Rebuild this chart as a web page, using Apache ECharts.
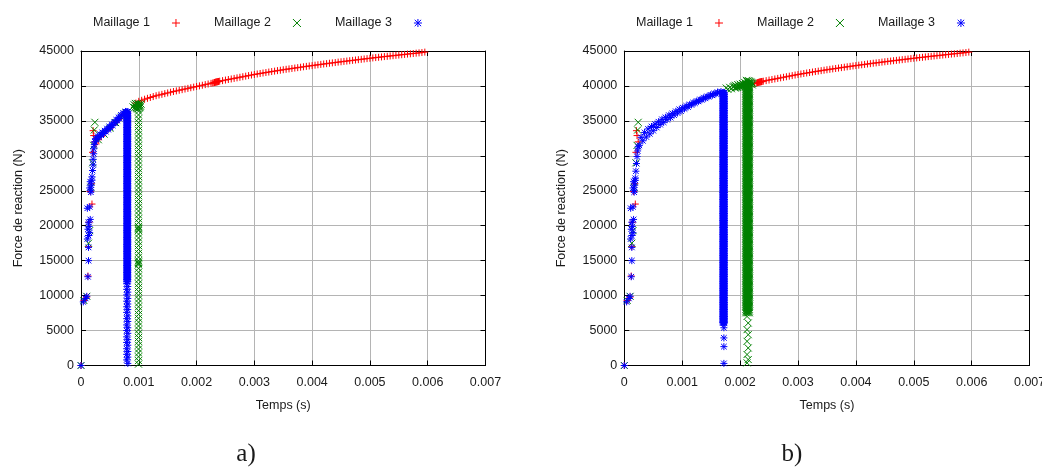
<!DOCTYPE html>
<html>
<head>
<meta charset="utf-8">
<script src="https://cdn.jsdelivr.net/npm/echarts@6/dist/echarts.min.js"></script>
<style>
html,body{margin:0;padding:0;background:#fff;overflow:hidden;}
#chart{width:1042px;height:467px;}
</style>
</head>
<body>
<div id="chart"></div>
<script>
// ---------- tick labels / names ----------
var seriesNames = ['Maillage 1', 'Maillage 2', 'Maillage 3'];
var xTicks = [0, 0.001, 0.002, 0.003, 0.004, 0.005, 0.006, 0.007];
var yTicks = [0, 5000, 10000, 15000, 20000, 25000, 30000, 35000, 40000, 45000];
var panelLabels = ['a)', 'b)'];

// ---------- Maillage 1 (same in both panels) ----------
var m1EarlyT = [0, 0.00005, 0.0001, 0.00012, 0.00013, 0.00014, 0.00019, 0.00016, 0.00018, 0.0002, 0.00021, 0.00022, 0.00024];
var m1EarlyF = [0, 9300, 9800, 12800, 17000, 20500, 23100, 24900, 26000, 30500, 33600, 32900, 32000];
var m1aMidT = [0.00026,0.0003,0.00035,0.0004,0.00045,0.0005,0.00055,0.0006,0.00065,0.0007,0.00075,0.0008,0.00095,0.001,0.00105,0.0011,0.00115,0.0012,0.00125,0.0013,0.00135,0.0014,0.00145,0.0015,0.00155,0.0016,0.00165,0.0017,0.00175,0.0018,0.00185,0.0019,0.00195,0.002,0.00205,0.0021];
var m1aMidF = [31700,32300,32800,33200,33650,34000,34400,34800,35250,35600,35950,36200,37550,37800,37950,38100,38230,38350,38480,38600,38700,38800,38900,39000,39100,39200,39290,39380,39470,39560,39650,39740,39830,39920,40010,40100];
var m1LateT = [0.00215,0.0022,0.00225,0.00228,0.0023,0.00231,0.00232,0.00233,0.00234,0.00235,0.00236,0.00237,0.00238,0.0024,0.00245,0.0025,0.00255,0.0026,0.00265,0.0027,0.00275,0.0028,0.00285,0.0029,0.00295,0.003,0.00305,0.0031,0.00315,0.0032,0.00325,0.0033,0.00335,0.0034,0.00345,0.0035,0.00355,0.0036,0.00365,0.0037,0.00375,0.0038,0.00385,0.0039,0.00395,0.004,0.00405,0.0041,0.00415,0.0042,0.00425,0.0043,0.00435,0.0044,0.00445,0.0045,0.00455,0.0046,0.00465,0.0047,0.00475,0.0048,0.00485,0.0049,0.00495,0.005,0.00505,0.0051,0.00515,0.0052,0.00525,0.0053,0.00535,0.0054,0.00545,0.0055,0.00555,0.0056,0.00565,0.0057,0.00575,0.0058,0.00585,0.0059,0.00595];
var m1LateF = [40190,40280,40370,40420,40460,40490,40510,40540,40560,40580,40600,40620,40640,40680,40760,40840,40920,41000,41080,41160,41240,41320,41400,41480,41560,41640,41710,41780,41850,41920,41990,42060,42120,42190,42250,42320,42380,42440,42500,42560,42620,42680,42740,42800,42860,42910,42970,43030,43080,43140,43190,43250,43300,43350,43410,43460,43510,43560,43610,43660,43710,43760,43810,43860,43910,43960,44010,44060,44100,44150,44200,44240,44290,44330,44380,44420,44470,44510,44560,44600,44640,44690,44730,44780,44840];

// ---------- Maillage 2 ----------
var m2EarlyT = [0, 0.00005, 0.0001, 0.00013, 0.00015, 0.00017, 0.0002, 0.00022, 0.00023, 0.00024];
var m2EarlyF = [0, 9300, 9900, 17500, 19300, 25500, 29000, 31500, 33700, 34800];
var m2aMidT = [0.0003, 0.0004, 0.0005, 0.0006, 0.0007, 0.00078];
var m2aMidF = [32300, 33100, 33950, 34750, 35550, 36150];
var m2aTopT = [0.0009,0.00092,0.00093,0.00094,0.00095,0.00096,0.00097,0.00098,0.00099,0.001,0.00101,0.00102,0.00103,0.00104,0.001,0.00098,0.00096,0.00102];
var m2aTopF = [37000,37300,36900,37500,37100,37400,36800,37500,37200,37400,37000,37300,37100,37400,36800,36700,36900,36900];
var m2aDropTime = 0.000995;
var m2aDropF = [36400,35850,35300,34750,34200,33650,33100,32550,32000,31450,30900,30350,29800,29250,28700,28150,27600,27050,26500,25950,25400,24850,24300,23750,23200,22650,22100,21550,21000,20450,19900,19700,19500,19300,18800,18250,17700,17150,16600,16050,15500,15000,14800,14600,14400,13900,13350,12800,12250,11700,11150,10600,10050,9500,8950,8400,7850,7300,6750,6200,5650,5100,4550,4000,3450,2900,2350,1800,1250,700,200];
var m2bTopT = [0.00176,0.00179,0.00182,0.00185,0.00188,0.0019,0.00192,0.00194,0.00196,0.00198,0.002,0.00202,0.00204,0.00206,0.00208,0.0021,0.00212,0.00214,0.00216,0.00218,0.0022,0.00222,0.0021,0.00213,0.00191,0.00193,0.00195,0.00197,0.00199,0.00201,0.00203,0.00205,0.00207,0.00209,0.00211,0.00215,0.00217,0.00219,0.00221];
var m2bTopF = [39700,39500,39800,39600,39900,40000,40100,39900,40200,40000,40250,40100,40350,40200,40500,40300,40650,40400,40550,40300,40450,40350,40100,40700,39700,39750,39800,39850,39900,39950,40000,40050,40150,40200,40800,40750,40650,40550,40150];
var m2bDropTimes = [0.0021, 0.00212, 0.00214, 0.00216];
var m2bDropF = [40300,40050,39800,39550,39300,39050,38800,38550,38300,38050,37800,37550,37300,37050,36800,36550,36300,36050,35800,35550,35300,35050,34800,34550,34300,34050,33800,33550,33300,33050,32800,32550,32300,32050,31800,31550,31300,31050,30800,30550,30300,30050,29800,29550,29300,29050,28800,28550,28300,28050,27800,27550,27300,27050,26800,26550,26300,26050,25800,25550,25300,25050,24800,24550,24300,24050,23800,23550,23300,23050,22800,22550,22300,22050,21800,21550,21300,21050,20800,20550,20300,20050,19800,19550,19300,19050,18800,18550,18300,18050,17800,17550,17300,17050,16800,16550,16300,16050,15800,15550,15300,15050,14800,14550,14300,14050,13800,13550,13300,13050,12800,12550,12300,12050,11800,11550,11300,11050,10800,10550,10300,10050,9800,9550,9300,9050,8800,8550,8300,8050,7800,7550];
var m2bTailTimes = [0.00212, 0.00214];
var m2bTailF = [7020,6080,5130,4410,3460,2510,1570,850,380];

// ---------- Maillage 3 ----------
var m3EarlyT = [0, 0.00004, 0.00008, 0.0001, 0.00012, 0.00013, 0.00013, 0.00011, 0.00013, 0.00015, 0.00012, 0.00014, 0.00013, 0.00016, 0.00011, 0.00015, 0.00017, 0.00015, 0.00018, 0.00016, 0.00019, 0.00017];
var m3EarlyF = [0, 9100, 9600, 9900, 12700, 15000, 16900, 18100, 18600, 19000, 19500, 19900, 20500, 20900, 22500, 22700, 24800, 25400, 25800, 26300, 26500, 25100];
var m3aCurveT = [0.00019,0.0002,0.00021,0.00021,0.00022,0.00022,0.00023,0.00024,0.00025,0.00027,0.00029,0.00031,0.00033,0.00035,0.00037,0.00039,0.00041,0.00043,0.00045,0.00047,0.00049,0.00051,0.00053,0.00055,0.00057,0.00059,0.00061,0.00063,0.00065,0.00067,0.00069,0.00071,0.00073,0.00075,0.00077,0.00079];
var m3aCurveF = [27000,27900,28700,29500,30300,31000,31600,32000,32450,32350,32800,32650,33100,32950,33350,33200,33600,33450,33900,33750,34200,34050,34500,34350,34800,34700,35150,35050,35500,35350,35850,35700,36150,35950,36350,36200];
var m3aDropTimes = [0.00079, 0.0008, 0.00081];
var m3aDropF = [36300,36050,35800,35550,35300,35050,34800,34550,34300,34050,33800,33550,33300,33050,32800,32550,32300,32050,31800,31550,31300,31050,30800,30550,30300,30050,29800,29550,29300,29050,28800,28550,28300,28050,27800,27550,27300,27050,26800,26550,26300,26050,25800,25550,25300,25050,24800,24550,24300,24050,23800,23550,23300,23050,22800,22550,22300,22050,21800,21550,21300,21050,20800,20550,20300,20050,19800,19550,19300,19050,18800,18550,18300,18050,17800,17550,17300,17050,16800,16550,16300,16050,15800,15550,15300,15050,14800,14550,14300,14050,13800,13550,13300,13050,12800,12550,12300,12050];
var m3aTailTimes = [0.00079, 0.00081];
var m3aTailF = [11700,11300,10900,10500,10100,9600,9200,8800,8400,8000,7600,7100,6700,6300,5800,5400,5000,4600,4100,3700,3300,2900,2400,2000,1600,1200,800,300];
var m3bCurveT = [0.00019,0.0002,0.00021,0.00022,0.00023,0.00024,0.00026,0.00029,0.00032,0.00035,0.00038,0.00041,0.00044,0.00047,0.0005,0.00053,0.00056,0.00059,0.00062,0.00065,0.00068,0.00071,0.00074,0.00077,0.0008,0.00083,0.00086,0.00089,0.00092,0.00095,0.00098,0.00101,0.00104,0.00107,0.0011,0.00113,0.00116,0.00119,0.00122,0.00125,0.00128,0.00131,0.00134,0.00137,0.0014,0.00143,0.00146,0.00149,0.00152,0.00155,0.00158,0.00161,0.00164,0.00167,0.0017];
var m3bCurveF = [26800,27800,28900,29900,30700,31300,31500,32650,32150,33350,32700,33850,33150,34200,33600,34550,34050,34880,34460,35230,34800,35510,35170,35820,35470,36070,35820,36370,36120,36660,36400,36890,36720,37150,36980,37360,37290,37610,37530,37830,37790,38070,38020,38290,38240,38510,38460,38720,38660,38920,38860,39110,39020,39200,39000];
var m3bDropTimes = [0.0017, 0.00171, 0.00172, 0.00173];
var m3bDropF = [39000,38750,38500,38250,38000,37750,37500,37250,37000,36750,36500,36250,36000,35750,35500,35250,35000,34750,34500,34250,34000,33750,33500,33250,33000,32750,32500,32250,32000,31750,31500,31250,31000,30750,30500,30250,30000,29750,29500,29250,29000,28750,28500,28250,28000,27750,27500,27250,27000,26750,26500,26250,26000,25750,25500,25250,25000,24750,24500,24250,24000,23750,23500,23250,23000,22750,22500,22250,22000,21750,21500,21250,21000,20750,20500,20250,20000,19750,19500,19250,19000,18750,18500,18250,18000,17750,17500,17250,17000,16750,16500,16250,16000,15750,15500,15250,15000,14750,14500,14250,14000,13750,13500,13250,13000,12750,12500,12250,12000,11750,11500,11250,11000,10750,10500,10250,10000,9750,9500,9250,9000,8750,8500,8250,8000,7750,7500,7250,7000,6750,6500,6250,6100];
var m3bTailTime = 0.00172;
var m3bTailF = [5400, 3950, 2700, 300];

// ---------- helpers ----------
function zip(T, F) {
  var n = Math.min(T.length, F.length), out = [];
  for (var i = 0; i < n; i++) out.push([T[i], F[i]]);
  return out;
}
// one mark per level, times used in turn
function column(times, F) {
  var ts = Array.isArray(times) ? times : [times];
  return F.map(function (f, i) { return [ts[i % ts.length], f]; });
}
// solid band: each level drawn at every listed time
function band(times, F) {
  var out = [];
  F.forEach(function (f) { times.forEach(function (t) { out.push([t, f]); }); });
  return out;
}

var m1a = zip(m1EarlyT, m1EarlyF).concat(zip(m1aMidT, m1aMidF), zip(m1LateT, m1LateF));
var m1b = zip(m1EarlyT, m1EarlyF).concat(zip(m1LateT, m1LateF));
var m2a = zip(m2EarlyT, m2EarlyF).concat(zip(m2aMidT, m2aMidF), zip(m2aTopT, m2aTopF), column(m2aDropTime, m2aDropF));
var m2b = zip(m2EarlyT, m2EarlyF).concat(zip(m2bTopT, m2bTopF), band(m2bDropTimes, m2bDropF), column(m2bTailTimes, m2bTailF));
var m3a = zip(m3EarlyT, m3EarlyF).concat(zip(m3aCurveT, m3aCurveF), band(m3aDropTimes, m3aDropF), column(m3aTailTimes, m3aTailF));
var m3b = zip(m3EarlyT, m3EarlyF).concat(zip(m3bCurveT, m3bCurveF), band(m3bDropTimes, m3bDropF), column(m3bTailTime, m3bTailF));

// ---------- styling ----------
var colors = ['#ff0000', '#008000', '#0000ff'];
var symbols = [
  'path://M0,5L10,5M5,0L5,10',
  'path://M0,0L10,10M10,0L0,10',
  'path://M0,5L10,5M5,0L5,10M1,1L9,9M9,1L1,9'
];
var FONT = 'Liberation Sans, Arial, sans-serif';
var grids = [
  {left: 81, top: 51, width: 404.5, height: 314.5},
  {left: 624.3, top: 51, width: 405.3, height: 314.5}
];

function xLab(v) { return v === 0 ? '0' : v.toFixed(3); }

var xAxes = [], yAxes = [];
grids.forEach(function (g, gi) {
  xAxes.push({
    type: 'value', gridIndex: gi, min: xTicks[0], max: xTicks[xTicks.length - 1], interval: xTicks[1] - xTicks[0],
    name: 'Temps (s)', nameLocation: 'middle', nameGap: 34,
    nameTextStyle: {fontFamily: FONT, fontSize: 12.5, color: '#1a1a1a'},
    axisLine: {show: true, onZero: false, lineStyle: {color: '#000', width: 1}},
    axisTick: {show: true, inside: true, length: 5, lineStyle: {color: '#000'}},
    axisLabel: {margin: 11, fontFamily: FONT, fontSize: 12.5, color: '#1a1a1a', formatter: xLab, showMaxLabel: true, showMinLabel: true, hideOverlap: false},
    splitLine: {show: true, lineStyle: {color: '#b4b4b4', width: 1}}
  });
  xAxes.push({
    type: 'value', gridIndex: gi, position: 'top', min: xTicks[0], max: xTicks[xTicks.length - 1], interval: xTicks[1] - xTicks[0],
    axisLine: {show: true, onZero: false, lineStyle: {color: '#000', width: 1}},
    axisTick: {show: true, inside: true, length: 5, lineStyle: {color: '#000'}},
    axisLabel: {show: false}, splitLine: {show: false}
  });
  yAxes.push({
    type: 'value', gridIndex: gi, min: yTicks[0], max: yTicks[yTicks.length - 1], interval: yTicks[1] - yTicks[0],
    name: 'Force de reaction (N)', nameLocation: 'middle', nameGap: 56, nameRotate: 90,
    nameTextStyle: {fontFamily: FONT, fontSize: 12.5, color: '#1a1a1a'},
    axisLine: {show: true, onZero: false, lineStyle: {color: '#000', width: 1}},
    axisTick: {show: true, inside: true, length: 5, lineStyle: {color: '#000'}},
    axisLabel: {margin: 7, fontFamily: FONT, fontSize: 12.5, color: '#1a1a1a', formatter: function (v) { return String(v); }},
    splitLine: {show: true, lineStyle: {color: '#b4b4b4', width: 1}}
  });
  yAxes.push({
    type: 'value', gridIndex: gi, position: 'right', min: yTicks[0], max: yTicks[yTicks.length - 1], interval: yTicks[1] - yTicks[0],
    axisLine: {show: true, onZero: false, lineStyle: {color: '#000', width: 1}},
    axisTick: {show: true, inside: true, length: 5, lineStyle: {color: '#000'}},
    axisLabel: {show: false}, splitLine: {show: false}
  });
});

function mkSeries(name, k, gi, data) {
  return {
    type: 'scatter', name: name, xAxisIndex: gi * 2, yAxisIndex: gi * 2,
    data: data, symbol: symbols[k], symbolSize: 7, clip: false,
    large: false, progressive: 0, silent: true,
    itemStyle: {color: 'transparent', borderColor: colors[k], borderWidth: 1, opacity: 1},
    emphasis: {disabled: true}
  };
}

var series = [
  mkSeries(seriesNames[0], 0, 0, m1a),
  mkSeries(seriesNames[1], 1, 0, m2a),
  mkSeries(seriesNames[2], 2, 0, m3a),
  mkSeries(seriesNames[0], 0, 1, m1b),
  mkSeries(seriesNames[1], 1, 1, m2b),
  mkSeries(seriesNames[2], 2, 1, m3b)
];

function legendData() {
  return seriesNames.map(function (n, k) {
    return {name: n, icon: symbols[k], itemStyle: {color: 'transparent', borderColor: colors[k], borderWidth: 1}};
  });
}
var legends = [88, 631].map(function (x) {
  return {
    left: x, top: 11.5, orient: 'horizontal', align: 'right',
    itemWidth: 42, itemHeight: 8, itemGap: 33.5, selectedMode: false,
    textStyle: {fontFamily: FONT, fontSize: 12.5, color: '#1a1a1a'},
    data: legendData()
  };
});

var chart = echarts.init(document.getElementById('chart'), null, {renderer: 'canvas'});
chart.setOption({
  animation: false,
  backgroundColor: '#ffffff',
  title: [
    {text: panelLabels[0], left: 241, top: 437, textAlign: 'center', textStyle: {fontFamily: 'Liberation Serif, serif', fontSize: 25, fontWeight: 'normal', color: '#1a1a1a'}},
    {text: panelLabels[1], left: 787, top: 437, textAlign: 'center', textStyle: {fontFamily: 'Liberation Serif, serif', fontSize: 25, fontWeight: 'normal', color: '#1a1a1a'}}
  ],
  legend: legends,
  grid: grids.map(function (g) { return Object.assign({containLabel: false, outerBoundsMode: 'none'}, g); }),
  xAxis: xAxes,
  yAxis: yAxes,
  series: series
});
</script>
</body>
</html>
